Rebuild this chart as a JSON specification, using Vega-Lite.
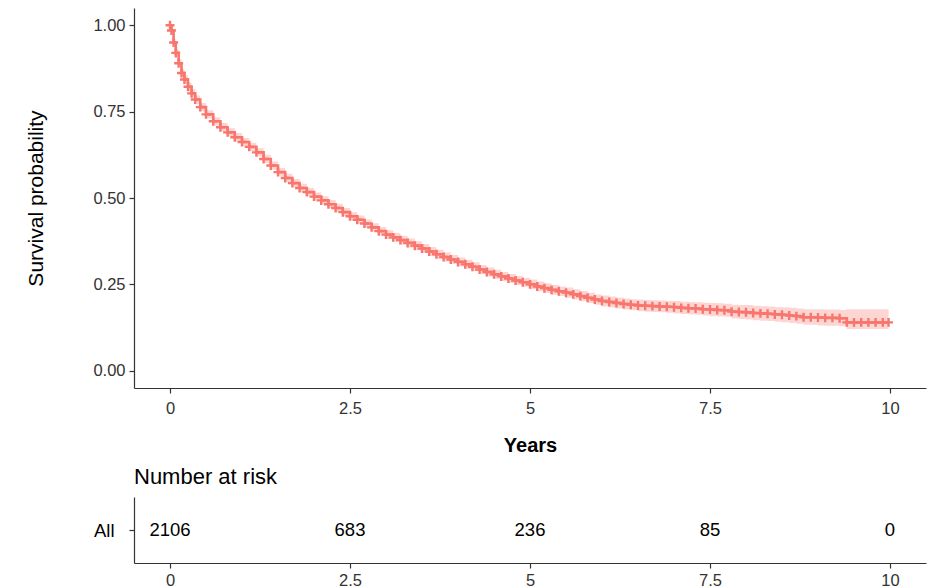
{
  "$schema": "https://vega.github.io/schema/vega-lite/v6.json",
  "padding": {"left": 25, "top": 8, "right": 5, "bottom": 0},
  "background": "white",
  "spacing": 10,
  "config": {
    "view": {"stroke": null},
    "font": "Liberation Sans",
    "axis": {
      "grid": false,
      "domainColor": "#333333",
      "domainWidth": 1.2,
      "tickColor": "#333333",
      "tickWidth": 1.2,
      "tickSize": 5,
      "labelColor": "#333333",
      "labelFontSize": 16.5,
      "labelPadding": 4,
      "titleColor": "#000000",
      "titleFontSize": 20
    }
  },
  "datasets": {
    "km": [
      {"t": 0.00, "s": 1.000, "lo": 1.000, "hi": 1.000},
      {"t": 0.02, "s": 0.985, "lo": 0.980, "hi": 0.990},
      {"t": 0.05, "s": 0.950, "lo": 0.941, "hi": 0.959},
      {"t": 0.08, "s": 0.920, "lo": 0.909, "hi": 0.931},
      {"t": 0.12, "s": 0.890, "lo": 0.878, "hi": 0.902},
      {"t": 0.16, "s": 0.862, "lo": 0.850, "hi": 0.874},
      {"t": 0.20, "s": 0.843, "lo": 0.831, "hi": 0.855},
      {"t": 0.25, "s": 0.822, "lo": 0.810, "hi": 0.834},
      {"t": 0.30, "s": 0.803, "lo": 0.791, "hi": 0.815},
      {"t": 0.35, "s": 0.785, "lo": 0.773, "hi": 0.797},
      {"t": 0.42, "s": 0.763, "lo": 0.751, "hi": 0.775},
      {"t": 0.50, "s": 0.742, "lo": 0.730, "hi": 0.754},
      {"t": 0.60, "s": 0.722, "lo": 0.710, "hi": 0.734},
      {"t": 0.70, "s": 0.705, "lo": 0.693, "hi": 0.717},
      {"t": 0.80, "s": 0.690, "lo": 0.678, "hi": 0.702},
      {"t": 0.90, "s": 0.676, "lo": 0.664, "hi": 0.688},
      {"t": 1.00, "s": 0.662, "lo": 0.650, "hi": 0.674},
      {"t": 1.10, "s": 0.648, "lo": 0.636, "hi": 0.660},
      {"t": 1.20, "s": 0.632, "lo": 0.620, "hi": 0.644},
      {"t": 1.30, "s": 0.613, "lo": 0.601, "hi": 0.625},
      {"t": 1.40, "s": 0.594, "lo": 0.582, "hi": 0.606},
      {"t": 1.50, "s": 0.575, "lo": 0.563, "hi": 0.587},
      {"t": 1.60, "s": 0.558, "lo": 0.546, "hi": 0.570},
      {"t": 1.70, "s": 0.543, "lo": 0.531, "hi": 0.555},
      {"t": 1.80, "s": 0.529, "lo": 0.517, "hi": 0.541},
      {"t": 1.90, "s": 0.517, "lo": 0.505, "hi": 0.529},
      {"t": 2.00, "s": 0.504, "lo": 0.492, "hi": 0.516},
      {"t": 2.10, "s": 0.493, "lo": 0.481, "hi": 0.505},
      {"t": 2.20, "s": 0.482, "lo": 0.470, "hi": 0.494},
      {"t": 2.30, "s": 0.471, "lo": 0.459, "hi": 0.483},
      {"t": 2.40, "s": 0.459, "lo": 0.447, "hi": 0.471},
      {"t": 2.50, "s": 0.447, "lo": 0.435, "hi": 0.459},
      {"t": 2.60, "s": 0.437, "lo": 0.425, "hi": 0.449},
      {"t": 2.70, "s": 0.426, "lo": 0.414, "hi": 0.438},
      {"t": 2.80, "s": 0.415, "lo": 0.403, "hi": 0.427},
      {"t": 2.90, "s": 0.404, "lo": 0.392, "hi": 0.416},
      {"t": 3.00, "s": 0.394, "lo": 0.381, "hi": 0.407},
      {"t": 3.10, "s": 0.386, "lo": 0.373, "hi": 0.399},
      {"t": 3.20, "s": 0.378, "lo": 0.365, "hi": 0.391},
      {"t": 3.30, "s": 0.370, "lo": 0.357, "hi": 0.383},
      {"t": 3.40, "s": 0.362, "lo": 0.349, "hi": 0.375},
      {"t": 3.50, "s": 0.354, "lo": 0.341, "hi": 0.367},
      {"t": 3.60, "s": 0.345, "lo": 0.332, "hi": 0.358},
      {"t": 3.70, "s": 0.337, "lo": 0.324, "hi": 0.350},
      {"t": 3.80, "s": 0.329, "lo": 0.316, "hi": 0.342},
      {"t": 3.90, "s": 0.322, "lo": 0.309, "hi": 0.335},
      {"t": 4.00, "s": 0.315, "lo": 0.302, "hi": 0.328},
      {"t": 4.10, "s": 0.308, "lo": 0.295, "hi": 0.321},
      {"t": 4.20, "s": 0.301, "lo": 0.288, "hi": 0.314},
      {"t": 4.30, "s": 0.293, "lo": 0.280, "hi": 0.306},
      {"t": 4.40, "s": 0.286, "lo": 0.273, "hi": 0.299},
      {"t": 4.50, "s": 0.279, "lo": 0.266, "hi": 0.292},
      {"t": 4.60, "s": 0.273, "lo": 0.260, "hi": 0.286},
      {"t": 4.70, "s": 0.267, "lo": 0.254, "hi": 0.280},
      {"t": 4.80, "s": 0.261, "lo": 0.248, "hi": 0.274},
      {"t": 4.90, "s": 0.256, "lo": 0.243, "hi": 0.269},
      {"t": 5.00, "s": 0.250, "lo": 0.236, "hi": 0.264},
      {"t": 5.10, "s": 0.244, "lo": 0.230, "hi": 0.258},
      {"t": 5.20, "s": 0.239, "lo": 0.225, "hi": 0.253},
      {"t": 5.30, "s": 0.234, "lo": 0.220, "hi": 0.248},
      {"t": 5.40, "s": 0.230, "lo": 0.216, "hi": 0.244},
      {"t": 5.50, "s": 0.226, "lo": 0.211, "hi": 0.241},
      {"t": 5.60, "s": 0.221, "lo": 0.206, "hi": 0.236},
      {"t": 5.70, "s": 0.216, "lo": 0.201, "hi": 0.231},
      {"t": 5.80, "s": 0.211, "lo": 0.196, "hi": 0.226},
      {"t": 5.90, "s": 0.206, "lo": 0.191, "hi": 0.221},
      {"t": 6.00, "s": 0.202, "lo": 0.186, "hi": 0.218},
      {"t": 6.10, "s": 0.199, "lo": 0.183, "hi": 0.215},
      {"t": 6.20, "s": 0.196, "lo": 0.180, "hi": 0.212},
      {"t": 6.30, "s": 0.193, "lo": 0.177, "hi": 0.209},
      {"t": 6.40, "s": 0.191, "lo": 0.175, "hi": 0.207},
      {"t": 6.50, "s": 0.189, "lo": 0.172, "hi": 0.206},
      {"t": 6.60, "s": 0.188, "lo": 0.171, "hi": 0.205},
      {"t": 6.70, "s": 0.187, "lo": 0.170, "hi": 0.204},
      {"t": 6.80, "s": 0.186, "lo": 0.169, "hi": 0.203},
      {"t": 6.90, "s": 0.185, "lo": 0.168, "hi": 0.202},
      {"t": 7.00, "s": 0.184, "lo": 0.166, "hi": 0.202},
      {"t": 7.10, "s": 0.182, "lo": 0.164, "hi": 0.200},
      {"t": 7.20, "s": 0.181, "lo": 0.163, "hi": 0.199},
      {"t": 7.30, "s": 0.180, "lo": 0.162, "hi": 0.198},
      {"t": 7.40, "s": 0.178, "lo": 0.160, "hi": 0.197},
      {"t": 7.50, "s": 0.177, "lo": 0.158, "hi": 0.196},
      {"t": 7.60, "s": 0.176, "lo": 0.157, "hi": 0.195},
      {"t": 7.70, "s": 0.175, "lo": 0.156, "hi": 0.194},
      {"t": 7.80, "s": 0.171, "lo": 0.151, "hi": 0.191},
      {"t": 7.90, "s": 0.170, "lo": 0.150, "hi": 0.190},
      {"t": 8.00, "s": 0.169, "lo": 0.148, "hi": 0.190},
      {"t": 8.10, "s": 0.167, "lo": 0.146, "hi": 0.188},
      {"t": 8.20, "s": 0.166, "lo": 0.145, "hi": 0.187},
      {"t": 8.30, "s": 0.165, "lo": 0.144, "hi": 0.186},
      {"t": 8.40, "s": 0.163, "lo": 0.142, "hi": 0.184},
      {"t": 8.50, "s": 0.162, "lo": 0.140, "hi": 0.184},
      {"t": 8.60, "s": 0.160, "lo": 0.138, "hi": 0.182},
      {"t": 8.70, "s": 0.158, "lo": 0.136, "hi": 0.180},
      {"t": 8.80, "s": 0.155, "lo": 0.133, "hi": 0.178},
      {"t": 8.90, "s": 0.155, "lo": 0.133, "hi": 0.178},
      {"t": 9.00, "s": 0.154, "lo": 0.131, "hi": 0.178},
      {"t": 9.10, "s": 0.153, "lo": 0.130, "hi": 0.177},
      {"t": 9.20, "s": 0.153, "lo": 0.130, "hi": 0.177},
      {"t": 9.30, "s": 0.152, "lo": 0.129, "hi": 0.176},
      {"t": 9.40, "s": 0.140, "lo": 0.121, "hi": 0.178},
      {"t": 9.50, "s": 0.140, "lo": 0.121, "hi": 0.178},
      {"t": 9.60, "s": 0.140, "lo": 0.121, "hi": 0.178},
      {"t": 9.70, "s": 0.140, "lo": 0.121, "hi": 0.178},
      {"t": 9.80, "s": 0.140, "lo": 0.121, "hi": 0.178},
      {"t": 9.90, "s": 0.140, "lo": 0.121, "hi": 0.178},
      {"t": 9.98, "s": 0.140, "lo": 0.121, "hi": 0.178}
    ],
    "risk": [
      {"t": 0, "n": "2106", "g": "All"},
      {"t": 2.5, "n": "683", "g": "All"},
      {"t": 5, "n": "236", "g": "All"},
      {"t": 7.5, "n": "85", "g": "All"},
      {"t": 10, "n": "0", "g": "All"}
    ]
  },
  "vconcat": [
    {
      "width": 792,
      "height": 380,
      "data": {"name": "km"},
      "encoding": {
        "x": {
          "field": "t",
          "type": "quantitative",
          "scale": {"domain": [-0.5, 10.5], "nice": false, "zero": false},
          "axis": {"values": [0, 2.5, 5, 7.5, 10], "format": ".2~f", "labelPadding": 7, "title": "Years", "titleFontWeight": "bold", "titlePadding": 19}
        }
      },
      "layer": [
        {
          "mark": {"type": "area", "interpolate": "step-after", "color": "#F8766D", "opacity": 0.3},
          "encoding": {
            "y": {"field": "lo", "type": "quantitative"},
            "y2": {"field": "hi"}
          }
        },
        {
          "mark": {"type": "line", "interpolate": "step-after", "color": "#F8766D", "strokeWidth": 2.6},
          "encoding": {
            "y": {
              "field": "s",
              "type": "quantitative",
              "scale": {"domain": [-0.05, 1.05], "nice": false, "zero": false},
              "axis": {"values": [0, 0.25, 0.5, 0.75, 1], "format": ".2f", "title": "Survival probability", "titleFontSize": 21, "titleFontWeight": "normal", "titlePadding": 46}
            }
          }
        },
        {
          "mark": {"type": "point", "shape": "M0,-1V1M-1,0H1", "size": 80, "filled": false, "stroke": "#F8766D", "strokeWidth": 2.4, "opacity": 1},
          "encoding": {
            "y": {"field": "s", "type": "quantitative"}
          }
        }
      ],
      "resolve": {"scale": {"y": "shared"}}
    },
    {
      "width": 792,
      "height": 66,
      "data": {"name": "risk"},
      "title": {"text": "Number at risk", "anchor": "start", "frame": "group", "fontSize": 22, "fontWeight": "normal", "color": "#000000", "offset": 8},
      "mark": {"type": "text", "fontSize": 18.5, "color": "#000000"},
      "encoding": {
        "x": {
          "field": "t",
          "type": "quantitative",
          "scale": {"domain": [-0.5, 10.5], "nice": false, "zero": false},
          "axis": {"values": [0, 2.5, 5, 7.5, 10], "format": ".2~f", "title": null}
        },
        "y": {
          "field": "g",
          "type": "nominal",
          "axis": {"title": null, "labelFontSize": 18.5, "labelColor": "#000000", "labelPadding": 15}
        },
        "text": {"field": "n", "type": "nominal"}
      }
    }
  ]
}
